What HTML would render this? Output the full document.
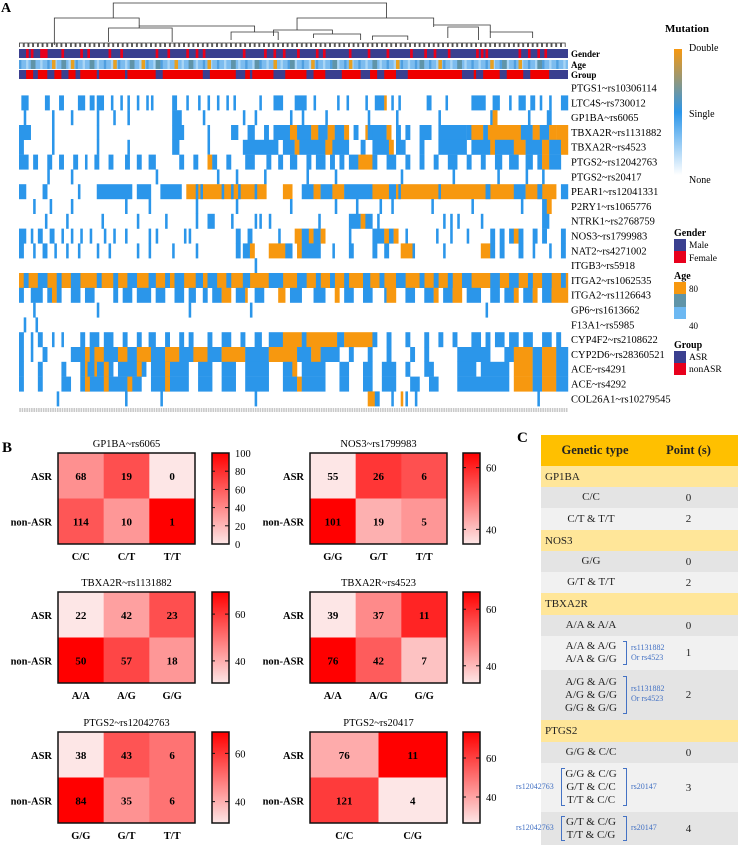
<!DOCTYPE html>
<html><head><meta charset="utf-8">
<style>
body{margin:0;background:#fff;width:738px;height:847px;overflow:hidden;position:relative;font-family:"Liberation Serif",serif}
svg{position:absolute;left:0;top:0}
#tbl{position:absolute;left:541px;top:435px;width:197px;font-size:11px;color:#222}
#tbl .r{position:relative;display:flex;align-items:center}
#tbl .h{background:#ffc000;height:31px;font-weight:bold;font-size:12.5px}
#tbl .s{background:#ffe699;height:21px;padding-left:4px}
#tbl .a{background:#e4e4e4}
#tbl .b{background:#f1f1f1}
.c1{position:absolute;left:0;width:100px;text-align:center;line-height:13px}
.c2{position:absolute;left:120px;width:55px;text-align:center}
.bl{color:#4472c4;font-size:8px;position:absolute;line-height:10px;white-space:nowrap}
.br{position:absolute;border:1.2px solid #4472c4;width:3px}
</style></head><body>
<svg id="svg" width="738" height="847"></svg>
<div id="tbl">
 <div class="r h"><span class="c1" style="left:4px">Genetic type</span><span class="c2">Point (s)</span></div>
 <div class="r s">GP1BA</div>
 <div class="r a" style="height:21px"><span class="c1">C/C</span><span class="c2">0</span></div>
 <div class="r b" style="height:22px"><span class="c1">C/T &amp; T/T</span><span class="c2">2</span></div>
 <div class="r s">NOS3</div>
 <div class="r a" style="height:21px"><span class="c1">G/G</span><span class="c2">0</span></div>
 <div class="r b" style="height:21px"><span class="c1">G/T &amp; T/T</span><span class="c2">2</span></div>
 <div class="r s" style="height:22px">TBXA2R</div>
 <div class="r a" style="height:21px"><span class="c1">A/A &amp; A/A</span><span class="c2">0</span></div>
 <div class="r b" style="height:34px"><span class="c1">A/A &amp; A/G<br>A/A &amp; G/G</span><span class="br" style="left:82px;top:5px;height:22px;border-left:none"></span><span class="bl" style="left:90px;top:7px">rs1131882<br>Or rs4523</span><span class="c2">1</span></div>
 <div class="r a" style="height:50px"><span class="c1">A/G &amp; A/G<br>A/G &amp; G/G<br>G/G &amp; G/G</span><span class="br" style="left:82px;top:6px;height:36px;border-left:none"></span><span class="bl" style="left:90px;top:14px">rs1131882<br>Or rs4523</span><span class="c2">2</span></div>
 <div class="r s" style="height:22px">PTGS2</div>
 <div class="r a" style="height:21px"><span class="c1">G/G &amp; C/C</span><span class="c2">0</span></div>
 <div class="r b" style="height:49px"><span class="c1">G/G &amp; C/G<br>G/T &amp; C/C<br>T/T &amp; C/C</span><span class="br" style="left:20px;top:5px;height:36px;border-right:none"></span><span class="br" style="left:82px;top:5px;height:36px;border-left:none"></span><span class="bl" style="left:-25px;top:19px">rs12042763</span><span class="bl" style="left:90px;top:19px">rs20147</span><span class="c2">3</span></div>
 <div class="r a" style="height:33px"><span class="c1">G/T &amp; C/G<br>T/T &amp; C/G</span><span class="br" style="left:20px;top:4px;height:23px;border-right:none"></span><span class="br" style="left:82px;top:4px;height:23px;border-left:none"></span><span class="bl" style="left:-25px;top:11px">rs12042763</span><span class="bl" style="left:90px;top:11px">rs20147</span><span class="c2">4</span></div>
</div>
<script>
// ---------- Panel A data ----------
const snpLabels=["PTGS1~rs10306114","LTC4S~rs730012","GP1BA~rs6065","TBXA2R~rs1131882","TBXA2R~rs4523","PTGS2~rs12042763","PTGS2~rs20417","PEAR1~rs12041331","P2RY1~rs1065776","NTRK1~rs2768759","NOS3~rs1799983","NAT2~rs4271002","ITGB3~rs5918","ITGA2~rs1062535","ITGA2~rs1126643","GP6~rs1613662","F13A1~rs5985","CYP4F2~rs2108622","CYP2D6~rs28360521","ACE~rs4291","ACE~rs4292","COL26A1~rs10279545"];
const nCols=233;
const mutRows=[
[],
[[1,4],[11,13],[17,19],[25,28],[30,32],[33,36],[39,40],[43,44],[46,47],[50,51],[54,55],[56,57],[65,67],[71,72],[76,77],[80,81],[84,85],[88,89],[91,92],[102,103],[108,112],[117,122],[125,126],[135,136],[139,140],[147,148],[151,155],[155,156,"o"],[158,159],[161,162],[173,175],[181,182],[192,198],[201,204],[208,209],[212,215],[217,219],[221,222],[225,226],[230,233]],
[[2,3],[14,15],[22,23],[33,34],[40,41],[46,47],[65,69],[78,79],[95,96],[100,101],[115,116],[120,121],[130,131],[148,149],[160,161],[178,179],[200,201],[201,203,"o"],[216,217],[224,226]],
[[0,5],[14,15],[33,34],[65,70],[80,81],[90,93],[97,100],[104,106],[108,115],[115,118,"o"],[118,124],[124,127,"o"],[127,131],[131,134,"o"],[134,138],[138,140,"o"],[142,144],[147,148,"o"],[148,150],[150,156],[156,158,"o"],[160,162],[164,166],[170,175],[178,190],[190,192],[192,197,"o"],[197,199],[199,213,"o"],[213,218],[218,221,"o"],[221,225],[225,228,"o"],[228,233,"o"]],
[[0,2],[14,15],[33,34],[46,47],[65,68],[80,81],[95,110],[112,117],[117,119,"o"],[119,130],[130,133,"o"],[133,140],[145,147],[150,157],[157,159,"o"],[160,164],[170,172],[178,190],[192,200],[200,202,"o"],[202,210],[210,215,"o"],[215,222],[222,225,"o"],[225,230],[230,233,"o"]],
[[0,4],[6,8],[12,14],[17,19],[23,25],[28,29],[32,34],[38,40],[45,47],[50,52],[55,58],[68,70],[74,76],[80,82,"o"],[82,84],[88,90],[96,100],[105,107],[110,112],[115,118],[122,124],[126,130],[132,134],[136,138],[140,144],[144,150,"o"],[150,152],[156,160],[164,166],[170,172],[176,178],[182,186],[190,192],[196,198],[202,205],[208,212],[215,218],[220,222],[222,225,"o"],[225,230]],
[[12,13],[22,23],[58,59],[84,85],[92,93],[104,105],[122,123],[134,135],[162,163],[184,185],[203,204],[215,216],[222,223]],
[[0,3],[10,12],[25,26],[33,48],[50,56],[60,69],[71,105,"o"],[75,76],[77,78],[86,87],[90,91],[93,94],[100,101],[112,116,"o"],[120,125],[125,128,"o"],[128,133],[133,138,"o"],[138,150],[150,157,"o"],[157,160],[160,210,"o"],[161,162],[178,179],[198,200],[210,215],[215,228,"o"],[220,222],[230,233]],
[[6,7],[13,14],[22,23],[45,46],[55,56],[75,76],[92,93],[115,116],[134,135],[143,144],[153,154],[158,159],[175,176],[192,193],[213,214],[222,224],[224,226,"o"]],
[[11,12],[20,21],[35,36],[50,51],[62,63],[75,76],[80,83],[90,91],[100,101],[102,103],[106,107],[127,128],[140,145],[145,147,"o"],[147,150],[152,153],[180,181],[183,184],[186,187],[196,197],[222,225]],
[[0,3],[5,6],[8,10],[13,15],[18,19],[22,23],[26,27],[30,31],[36,37],[40,41],[45,46],[55,56],[58,59],[70,71],[72,73],[92,94],[97,99],[110,111],[117,120,"o"],[120,123],[123,125,"o"],[125,128],[128,130,"o"],[140,141],[150,155],[155,157,"o"],[157,159],[159,161,"o"],[164,165],[177,178],[183,184],[190,191],[200,202],[204,206],[208,210],[210,212,"o"],[212,214],[218,220],[222,224],[230,232]],
[[0,2],[6,7],[10,12],[15,16],[20,21],[25,26],[33,34],[38,39],[50,51],[55,56],[65,66],[75,76],[92,94],[95,98],[98,100,"o"],[106,113,"o"],[113,116],[118,120,"o"],[120,128],[133,134],[140,142],[150,152],[155,157],[162,167,"o"],[167,168],[180,181],[196,200,"o"],[200,202],[204,206],[212,214],[218,219],[225,226],[230,232]],
[[100,101]],
[[0,233,"o"],[2,4],[8,12],[16,18],[22,26],[33,35],[40,42],[46,50],[55,58],[62,64],[66,70],[75,78],[80,84],[88,90],[95,98],[106,112],[118,122],[126,128],[132,134],[138,140],[146,149],[153,155],[160,164],[170,172],[176,178],[182,184],[188,192],[200,204],[208,212],[216,218],[222,226],[230,232]],
[[0,2],[5,10],[12,14],[14,16,"o"],[16,18],[22,26],[28,32],[40,42],[44,48],[50,56],[58,62],[66,70],[72,75],[78,80],[82,86],[86,90,"o"],[92,96],[96,97,"o"],[100,104],[110,113,"o"],[115,120],[125,130],[134,136,"o"],[138,142],[146,150],[155,156],[156,160,"o"],[164,168],[172,176],[176,178,"o"],[180,184],[184,188,"o"],[190,196],[200,204],[206,210],[210,212,"o"],[214,218],[218,220,"o"],[222,226],[226,233,"o"]],
[[6,7],[33,34],[72,73],[98,99],[198,199]],
[[2,3],[7,8]],
[[0,2],[5,6],[8,10],[14,15],[18,19],[26,28],[30,34],[36,40],[44,46],[50,52],[55,58],[62,64],[68,70],[72,74],[80,82],[86,90],[94,96],[100,103],[106,112],[112,120,"o"],[120,122],[122,135,"o"],[135,138],[138,150,"o"],[150,152],[156,158],[164,166],[172,174],[178,180],[184,186],[192,196],[198,200],[202,206],[208,212],[214,218],[222,226],[228,230]],
[[0,2],[5,6],[10,12],[22,28],[28,30,"o"],[30,32],[32,36,"o"],[36,42],[42,46,"o"],[46,50],[50,56,"o"],[56,62],[62,68,"o"],[68,74],[74,80,"o"],[80,86],[86,96,"o"],[96,106],[106,118,"o"],[118,124],[124,128,"o"],[128,136],[140,142],[148,150],[156,158],[166,168],[172,174],[186,200],[206,210],[210,218,"o"],[218,222],[222,228,"o"],[228,233]],
[[0,2],[8,10],[18,20],[26,40],[28,29,"o"],[32,33,"o"],[36,38,"o"],[42,54],[50,52,"o"],[56,72],[62,64,"o"],[76,82],[86,92],[96,106],[112,116],[116,118,"o"],[120,130],[136,140],[146,150],[154,160],[164,166],[172,176],[186,194],[196,208],[210,218,"o"],[218,222],[222,228,"o"],[228,233]],
[[0,2],[8,10],[18,22],[26,52],[28,30,"o"],[36,38,"o"],[46,48,"o"],[56,72],[62,64,"o"],[76,82],[86,92],[96,106],[112,118],[118,120,"o"],[120,130],[136,140],[146,150],[154,160],[166,170],[174,178],[186,208],[210,218,"o"],[218,222],[222,228,"o"],[228,233]],
[[16,17],[45,46],[60,61],[100,101],[148,151,"o"],[151,153],[158,159],[162,163,"o"],[164,165],[168,169],[220,221]]
];
const femaleCols=[3,5,9,10,11,18,26,29,38,43,58,63,71,75,78,95,104,108,112,118,126,129,140,148,156,166,172,176,182,194,196,198,212,216,220,223];
const asrGroupRuns=[[0,3],[6,8],[12,15],[18,21],[24,26],[33,34],[45,46],[58,61],[78,81],[92,96],[98,99],[108,113],[122,125],[130,137],[145,149],[152,155],[160,165],[188,193],[194,197],[204,207],[214,217],[225,233]];
const ageOldCols=[14,22,40,52,66,80,108,124,140,160,178,200,212];
const ageMidCols=[5,18,30,47,58,72,90,100,115,133,150,170,186,205,220];

// ---------- Panel B data ----------
const bTitles=["GP1BA~rs6065","NOS3~rs1799983","TBXA2R~rs1131882","TBXA2R~rs4523","PTGS2~rs12042763","PTGS2~rs20417"];
const bGenos=[["C/C","C/T","T/T"],["G/G","G/T","T/T"],["A/A","A/G","G/G"],["A/A","A/G","G/G"],["G/G","G/T","T/T"],["C/C","C/G"]];
const bASR=[[68,19,0],[55,26,6],[22,42,23],[39,37,11],[38,43,6],[76,11]];
const bNon=[[114,10,1],[101,19,5],[50,57,18],[76,42,7],[84,35,6],[121,4]];

const S=document.getElementById('svg');const NS='http://www.w3.org/2000/svg';
function mk(t,a,p){const e=document.createElementNS(NS,t);for(const k in a)e.setAttribute(k,a[k]);(p||S).appendChild(e);return e;}
function tx(x,y,s,a,p){const e=mk('text',Object.assign({x:x,y:y},a||{}),p);e.textContent=s;return e;}

const hx0=19,hx1=568,cw=(hx1-hx0)/nCols,rowTop=80.6,rowH=14.8;
const cx=c=>hx0+c*cw;
tx(1,12,"A",{"font-size":14,"font-weight":"bold"});
const dg=mk('g',{stroke:"#333","stroke-width":0.8,fill:"none"});


function br(c1,c2,y,y1,y2){mk('path',{d:`M${cx(c1)},${y1}V${y}H${cx(c2)}V${y2}`},dg);}
br(40,156,3,18,18);
br(15,51,18,45,26);br(51,100,26,28,32);br(38,65,28,42,42);br(90,110,32,40,40);
br(118,176,18,30,25);br(176,200,25,27,32);br(200,218,32,38,38);
br(108,133,30,36,34);br(125,145,34,38,40);br(150,165,36,40,40);br(182,195,27,38,40);
for(let c=1;c<nCols;c+=2){mk('path',{d:`M${cx(c-0.8)},47V43H${cx(c+0.8)}V47`},dg);}
const ann=[["Gender",49],["Age",60],["Group",70]];
ann.forEach(a=>{tx(hx1+3,a[1]+8,a[0],{"font-size":9,"font-weight":"bold"});});
const gB=mk('g',{});
mk('rect',{x:hx0,y:49,width:hx1-hx0,height:9,fill:"#3a3f8f"},gB);
femaleCols.forEach(c=>{const r=mk('rect',{x:cx(c),y:49,width:cw+0.3,height:9,fill:"#e8001c"},gB);});
const aB=mk('g',{});
mk('rect',{x:hx0,y:60,width:hx1-hx0,height:9,fill:"#7cbcef"},aB);
for(let c=0;c<nCols;c+=3){mk('rect',{x:cx(c),y:60,width:cw,height:9,fill:(c%6?"#a9d5f5":"#4f9fe0")},aB);}
ageMidCols.forEach(c=>mk('rect',{x:cx(c),y:60,width:cw*2,height:9,fill:"#5f94a8"},aB));
ageOldCols.forEach(c=>mk('rect',{x:cx(c),y:60,width:cw*1.5,height:9,fill:"#e8a020"},aB));
const grB=mk('g',{});
mk('rect',{x:hx0,y:70,width:hx1-hx0,height:9,fill:"#ee0000"},grB);
asrGroupRuns.forEach(r=>{const e=mk('rect',{x:cx(r[0]),y:70,width:(r[1]-r[0])*cw,height:9,fill:"#3a3f8f"},grB);});
mutRows.forEach((segs,i)=>{
 const y=rowTop+i*rowH;
 const g=mk('g',{});
 segs.forEach(s=>{const e=mk('rect',{x:cx(s[0]),y:y,width:(s[1]-s[0])*cw+0.2,height:rowH+0.2,fill:s[2]==="o"?"#f7980f":"#2b96ea"},g);
  
  });
 const t=tx(hx1+3,y+rowH/2+3.5,snpLabels[i],{"font-size":10.5});
 
});
for(let c=0;c<nCols;c++){mk('rect',{x:cx(c)+0.3,y:408,width:cw-0.8,height:4,fill:"#c8c8c8"});}
const defs=mk('defs',{});
const lg=mk('linearGradient',{id:"mg",x1:0,y1:0,x2:0,y2:1},defs);
mk('stop',{offset:"0",'stop-color':"#f7980f"},lg);mk('stop',{offset:"0.5",'stop-color':"#2b96ea"},lg);mk('stop',{offset:"1",'stop-color':"#ffffff"},lg);
const bg=mk('linearGradient',{id:"rg",x1:0,y1:1,x2:0,y2:0},defs);
mk('stop',{offset:"0",'stop-color':"#fde6e6"},bg);mk('stop',{offset:"1",'stop-color':"#ff0000"},bg);
tx(665,32,"Mutation",{"font-size":11,"font-weight":"bold"});
mk('rect',{x:674,y:49,width:8,height:126,fill:"url(#mg)"});
tx(689,51,"Double",{"font-size":10});tx(689,117,"Single",{"font-size":10});tx(689,183,"None",{"font-size":10});
const LX=674,TX=689;
tx(LX,236,"Gender",{"font-size":10,"font-weight":"bold"});
mk('rect',{x:LX,y:239,width:12,height:12,fill:"#3a3f8f"});mk('rect',{x:LX,y:251,width:12,height:12,fill:"#e8001c"});
tx(TX,248,"Male",{"font-size":9.5});tx(TX,261,"Female",{"font-size":9.5});
tx(LX,279,"Age",{"font-size":10,"font-weight":"bold"});
mk('rect',{x:LX,y:282,width:12,height:12,fill:"#f7980f"});mk('rect',{x:LX,y:294,width:12,height:13,fill:"#5f94a8"});mk('rect',{x:LX,y:307,width:12,height:12,fill:"#6cb8f2"});
tx(TX,292,"80",{"font-size":9});tx(TX,329,"40",{"font-size":9});
tx(LX,348,"Group",{"font-size":10,"font-weight":"bold"});
mk('rect',{x:LX,y:351,width:12,height:12,fill:"#3a3f8f"});mk('rect',{x:LX,y:363,width:12,height:12,fill:"#e8001c"});
tx(TX,360,"ASR",{"font-size":9.5});tx(TX,372,"nonASR",{"font-size":9.5});

tx(2,452,"B",{"font-size":15,"font-weight":"bold"});
tx(517,442,"C",{"font-size":15,"font-weight":"bold"});
const px=[58,310],py=[453,592,732],bw=137,bh=91;
function col(t){const g=Math.round(230*(1-t));return `rgb(${255-Math.round(2*(1-t))},${g},${g})`;}
bTitles.forEach((title,k)=>{
 const x0=px[k%2],y0=py[Math.floor(k/2)];
 const g=mk('g',{});
 const n=bGenos[k].length;const cwB=bw/n;
 const pct=[[],[]];
 for(let j=0;j<n;j++){const tot=bASR[k][j]+bNon[k][j];pct[0].push(tot?bASR[k][j]/tot*100:0);pct[1].push(tot?bNon[k][j]/tot*100:0);}
 let lo,hi;
 if(k===0){lo=0;hi=100;}else{const all=pct[0].concat(pct[1]);lo=Math.min(...all);hi=Math.max(...all);}
 [bASR[k],bNon[k]].forEach((vals,r)=>{
  vals.forEach((v,j)=>{
   const t=Math.max(0,Math.min(1,(pct[r][j]-lo)/(hi-lo)));
   const c=mk('rect',{x:x0+j*cwB,y:y0+r*bh/2,width:cwB+0.3,height:bh/2+0.3,fill:col(t)},g);
   
   tx(x0+j*cwB+cwB/2,y0+r*bh/2+bh/4+4,String(v),{"font-size":11,"font-weight":"bold","text-anchor":"middle"},g);
  });
 });
 mk('rect',{x:x0,y:y0,width:bw,height:bh,fill:"none",stroke:"#111","stroke-width":1.5},g);
 tx(x0+bw/2,y0-6,title,{"font-size":10.5,"text-anchor":"middle"},g);
 tx(x0-6,y0+bh/4+4,"ASR",{"font-size":10.5,"font-weight":"bold","text-anchor":"end"},g);
 tx(x0-6,y0+3*bh/4+4,"non-ASR",{"font-size":10.5,"font-weight":"bold","text-anchor":"end"},g);
 bGenos[k].forEach((gn,j)=>tx(x0+j*cwB+cwB/2,y0+bh+16,gn,{"font-size":10.5,"font-weight":"bold","text-anchor":"middle"},g));
 const cbx=k%2?463:212;
 const cb=mk('g',{});
 mk('rect',{x:cbx,y:y0,width:17,height:bh,fill:"url(#rg)",stroke:"#111","stroke-width":1.5},cb);
 const ticks=k===0?[0,20,40,60,80,100]:[40,60];
 ticks.forEach(v=>{const yy=y0+bh-(v-lo)/(hi-lo)*bh;
  mk('line',{x1:cbx+17,x2:cbx+13,y1:yy,y2:yy,stroke:"#111","stroke-width":1},cb);
  mk('line',{x1:cbx,x2:cbx+3,y1:yy,y2:yy,stroke:"#111","stroke-width":1},cb);
  tx(cbx+23,yy+4,String(v),{"font-size":10.5},cb);});
});
</script>
</body></html>
